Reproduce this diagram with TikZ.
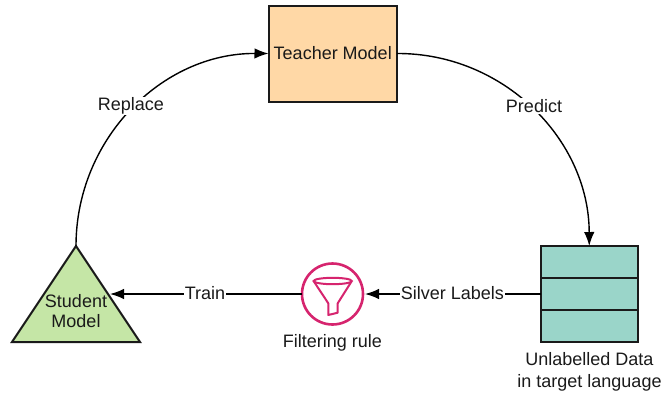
\documentclass[tikz,border=0pt]{standalone}
\usepackage{fontspec}
\setmainfont{Liberation Sans}
\usetikzlibrary{arrows.meta}
\definecolor{teacherfill}{HTML}{FFD8A6}
\definecolor{studentfill}{HTML}{C5E6A6}
\definecolor{datafill}{HTML}{9AD5C9}
\definecolor{funnelcol}{HTML}{D6246E}
\definecolor{inkcol}{HTML}{1A1A1A}
\tikzset{
  every node/.style={font=\fontsize{18}{22}\selectfont, text=inkcol, inner sep=0pt, outer sep=0pt},
  boxed/.style={draw=inkcol, line width=2pt},
  datarow/.style={boxed, fill=datafill, minimum width=96.5pt, minimum height=32pt},
  link/.style={draw=black, line width=1.4pt, -{Latex[length=14pt,width=10.5pt]}},
  tag/.style={fill=white, inner xsep=1pt, inner ysep=1pt},
  caption/.style={align=center}
}
\begin{document}
\begin{tikzpicture}[x=1pt,y=-1pt]
\useasboundingbox (0,0) rectangle (662,394);
% teacher
\node[boxed, fill=teacherfill, minimum width=128.5pt, minimum height=96pt] (teacher) at (332.75,53.5) {Teacher Model};
% data
\node[datarow] (d1) at (589.25,262) {};
\node[datarow] (d2) at (589.25,294) {};
\node[datarow] (d3) at (589.25,326) {};
\node[caption, anchor=north] (datacap) at (589.5,352) {Unlabelled Data\\in target language};
% student
\coordinate (apex) at (76,246);
\coordinate (baseL) at (12,342);
\coordinate (baseR) at (140,342);
\coordinate (studentEast) at (110,294);
\draw[boxed, fill=studentfill, line join=miter] (apex) -- (baseR) -- (baseL) -- cycle;
\node[align=center, font=\fontsize{18}{20}\selectfont] (student) at (76,311) {Student\\Model};
% filter
\node[circle, draw=funnelcol, line width=2.6pt, fill=white, minimum size=61pt] (filter) at (332.5,294) {};
\draw[funnelcol, line width=2pt, line join=round, fill=white]
  (313.7,281.2) -- (328.3,303.3) -- (328.3,315) -- (337.7,312.7) -- (337.7,303.3) -- (351.7,281.2);
\draw[funnelcol, line width=2pt, fill=white] (332.7,281) ellipse [x radius=19, y radius=3.2];
\node[caption, anchor=north] (filtercap) at (332.5,334) {Filtering rule};
% connectors
\draw[link, shorten >=2pt] (d2.west) -- (filter.east);
\node[tag] (silver) at (452.5,293) {Silver Labels};
\draw[link] (filter.west) -- (studentEast);
\node[tag] (train) at (205,293) {Train};
\draw[link] (apex) .. controls (76,139) and (162,53) .. (teacher.west);
\node[tag] (replace) at (131,106) {Replace};
\draw[link] (teacher.east) .. controls (503,53) and (589,139) .. (d1.north);
\node[tag] (predict) at (534,106) {Predict};
\end{tikzpicture}
\end{document}
